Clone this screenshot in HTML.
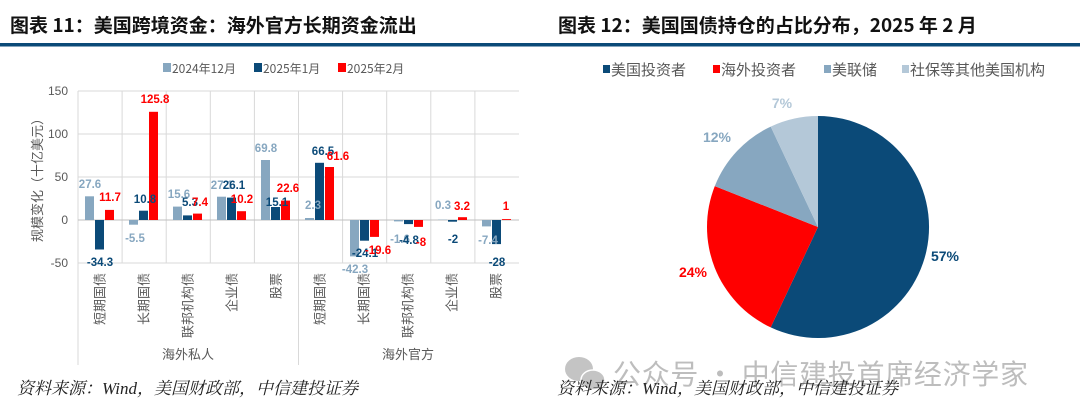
<!DOCTYPE html>
<html><head><meta charset="utf-8"><style>
body{margin:0;background:#fff}
svg{display:block}
text{font-family:"Liberation Sans","Noto Sans CJK SC",sans-serif}
.cjk{font-family:"Noto Sans CJK SC","Liberation Sans",sans-serif}
.t{font-size:19px;font-weight:bold;fill:#111}
.lg{font-size:12px;fill:#595959}
.lg2{font-size:15px;fill:#595959}
.yt{font-size:12px;fill:#595959;text-anchor:end;dominant-baseline:central}
.cl{font-size:13px;fill:#595959;text-anchor:end;dominant-baseline:central}
.v{font-size:11.5px;font-weight:bold;text-anchor:middle;dominant-baseline:central}
.a{fill:#87a7c0}.b{fill:#0b4a78}.c{fill:#ff0000}
.src{font-family:"Liberation Serif","Noto Serif CJK SC",serif;font-style:italic;font-size:17px;fill:#222}
.p{font-size:14px;font-weight:bold;text-anchor:middle;dominant-baseline:central}
</style></head><body>
<svg width="1080" height="417" viewBox="0 0 1080 417" xmlns="http://www.w3.org/2000/svg">
<text x="10" y="32" class="t cjk">图表 11：美国跨境资金：海外官方长期资金流出</text>
<text x="558" y="32" class="t cjk">图表 12：美国国债持仓的占比分布，2025 年 2 月</text>
<rect x="0" y="43" width="1080" height="3.5" fill="#0b4a78"/>

<rect x="163" y="63" width="8" height="9" class="a"/><text x="172" y="73" class="lg cjk">2024年12月</text>
<rect x="254" y="63" width="8" height="9" class="b"/><text x="263" y="73" class="lg cjk">2025年1月</text>
<rect x="338" y="63" width="8" height="9" class="c"/><text x="347" y="73" class="lg cjk">2025年2月</text>

<g stroke="#d9d9d9" stroke-width="1">
<line x1="78" y1="91" x2="519" y2="91"/>
<line x1="78" y1="134" x2="519" y2="134"/>
<line x1="78" y1="177" x2="519" y2="177"/>
<line x1="78" y1="263" x2="519" y2="263"/>
<line x1="122.1" y1="91" x2="122.1" y2="263"/>
<line x1="166.2" y1="91" x2="166.2" y2="263"/>
<line x1="210.3" y1="91" x2="210.3" y2="263"/>
<line x1="254.4" y1="91" x2="254.4" y2="263"/>
<line x1="342.6" y1="91" x2="342.6" y2="263"/>
<line x1="386.7" y1="91" x2="386.7" y2="263"/>
<line x1="430.8" y1="91" x2="430.8" y2="263"/>
<line x1="474.9" y1="91" x2="474.9" y2="263"/>
<line x1="78" y1="91" x2="78" y2="365"/>
<line x1="298.5" y1="91" x2="298.5" y2="365"/>
</g>
<line x1="78" y1="220" x2="519" y2="220" stroke="#bfbfbf"/>

<text x="68" y="91" class="yt">150</text>
<text x="68" y="134" class="yt">100</text>
<text x="68" y="177" class="yt">50</text>
<text x="68" y="220" class="yt">0</text>
<text x="68" y="263" class="yt">-50</text>
<text x="0" y="0" class="cjk" font-size="13" fill="#595959" text-anchor="middle" transform="translate(42,177) rotate(-90)">规模变化（十亿美元）</text>

<rect x="85" y="196.3" width="9" height="23.7" class="a"/><rect x="95" y="220" width="9" height="29.5" class="b"/><rect x="105" y="209.9" width="9" height="10.1" class="c"/>
<rect x="129" y="220" width="9" height="4.7" class="a"/><rect x="139" y="210.7" width="9" height="9.3" class="b"/><rect x="149" y="111.8" width="9" height="108.2" class="c"/>
<rect x="173" y="206.6" width="9" height="13.4" class="a"/><rect x="183" y="215.4" width="9" height="4.6" class="b"/><rect x="193" y="213.6" width="9" height="6.4" class="c"/>
<rect x="217" y="196.7" width="9" height="23.3" class="a"/><rect x="227" y="197.6" width="9" height="22.4" class="b"/><rect x="237" y="211.2" width="9" height="8.8" class="c"/>
<rect x="261" y="160" width="9" height="60" class="a"/><rect x="271" y="207" width="9" height="13" class="b"/><rect x="281" y="200.6" width="9" height="19.4" class="c"/>
<rect x="305" y="218" width="9" height="2" class="a"/><rect x="315" y="162.8" width="9" height="57.2" class="b"/><rect x="325" y="167" width="9" height="53" class="c"/>
<rect x="350" y="220" width="9" height="36.4" class="a"/><rect x="360" y="220" width="9" height="20.7" class="b"/><rect x="370" y="220" width="9" height="16.9" class="c"/>
<rect x="394" y="220" width="9" height="1.4" class="a"/><rect x="404" y="220" width="9" height="4.1" class="b"/><rect x="414" y="220" width="9" height="6.9" class="c"/>
<rect x="438" y="219.7" width="9" height="0.3" class="a"/><rect x="448" y="220" width="9" height="1.7" class="b"/><rect x="458" y="217.2" width="9" height="2.8" class="c"/>
<rect x="482" y="220" width="9" height="6.4" class="a"/><rect x="492" y="220" width="9" height="24.1" class="b"/><rect x="502" y="219.1" width="9" height="0.9" class="c"/>

<g class="v">
<text x="90" y="185" class="a">27.6</text><text x="100" y="263" class="b">-34.3</text><text x="110" y="198" class="c">11.7</text>
<text x="135" y="239" class="a">-5.5</text><text x="145" y="200" class="b">10.8</text><text x="155" y="100" class="c">125.8</text>
<text x="179" y="195" class="a">15.6</text><text x="190" y="203" class="b">5.3</text><text x="200" y="203" class="c">7.4</text>
<text x="222" y="186" class="a">27.1</text><text x="234" y="186" class="b">26.1</text><text x="242" y="200" class="c">10.2</text>
<text x="266" y="149" class="a">69.8</text><text x="277" y="203" class="b">15.1</text><text x="288" y="189" class="c">22.6</text>
<text x="313" y="206" class="a">2.3</text><text x="323" y="152" class="b">66.5</text><text x="338" y="157" class="c">61.6</text>
<text x="355" y="270" class="a">-42.3</text><text x="365" y="254" class="b">-24.1</text><text x="378" y="251" class="c">-19.6</text>
<text x="400" y="240" class="a">-1.6</text><text x="409" y="241" class="b">-4.8</text><text x="421" y="243" class="c">-8</text>
<text x="443" y="206" class="a">0.3</text><text x="453" y="240" class="b">-2</text><text x="462" y="207" class="c">3.2</text>
<text x="488" y="241" class="a">-7.4</text><text x="497" y="263" class="b">-28</text><text x="506" y="207" class="c">1</text>
</g>

<g class="cl cjk">
<text transform="translate(100,273) rotate(-90)">短期国债</text>
<text transform="translate(144,273) rotate(-90)">长期国债</text>
<text transform="translate(188,273) rotate(-90)">联邦机构债</text>
<text transform="translate(232,273) rotate(-90)">企业债</text>
<text transform="translate(276,273) rotate(-90)">股票</text>
<text transform="translate(320,273) rotate(-90)">短期国债</text>
<text transform="translate(364,273) rotate(-90)">长期国债</text>
<text transform="translate(408,273) rotate(-90)">联邦机构债</text>
<text transform="translate(452,273) rotate(-90)">企业债</text>
<text transform="translate(496,273) rotate(-90)">股票</text>
</g>
<text x="188" y="359" class="cjk" font-size="13" fill="#595959" text-anchor="middle">海外私人</text>
<text x="408" y="359" class="cjk" font-size="13" fill="#595959" text-anchor="middle">海外官方</text>

<rect x="603" y="65" width="7" height="8" class="b"/><text x="611" y="75" class="lg2 cjk">美国投资者</text>
<rect x="713" y="65" width="7" height="8" class="c"/><text x="721" y="75" class="lg2 cjk">海外投资者</text>
<rect x="824" y="65" width="7" height="8" class="a"/><text x="832" y="75" class="lg2 cjk">美联储</text>
<rect x="902" y="65" width="7" height="8" fill="#b4c8d8"/><text x="910" y="75" class="lg2 cjk">社保等其他美国机构</text>

<path d="M818,227 L818,116 A111,111 0 1,1 770.7,327.4 Z" fill="#0b4a78"/>
<path d="M818,227 L770.7,327.4 A111,111 0 0,1 714.8,186.1 Z" fill="#ff0000"/>
<path d="M818,227 L714.8,186.1 A111,111 0 0,1 770.7,126.6 Z" fill="#87a7c0"/>
<path d="M818,227 L770.7,126.6 A111,111 0 0,1 818,116 Z" fill="#b4c8d8"/>
<text x="945" y="256" class="p" fill="#0b4a78">57%</text>
<text x="693" y="272" class="p" fill="#ff0000">24%</text>
<text x="717" y="137" class="p" fill="#87a7c0">12%</text>
<text x="782" y="103" class="p" fill="#b4c8d8">7%</text>

<ellipse cx="579" cy="369" rx="14" ry="12" fill="#c4c4c4"/>
<ellipse cx="593" cy="380" rx="12" ry="10" fill="#c4c4c4" stroke="#fff" stroke-width="1.5"/>
<text x="613" y="384" class="cjk" font-size="28" fill="#bdbdbd" textLength="415">公众号 · 中信建投首席经济学家</text>

<text x="17" y="394" class="src">资料来源：Wind，美国财政部，中信建投证券</text>
<text x="557" y="394" class="src">资料来源：Wind，美国财政部，中信建投证券</text>
</svg>
</body></html>
